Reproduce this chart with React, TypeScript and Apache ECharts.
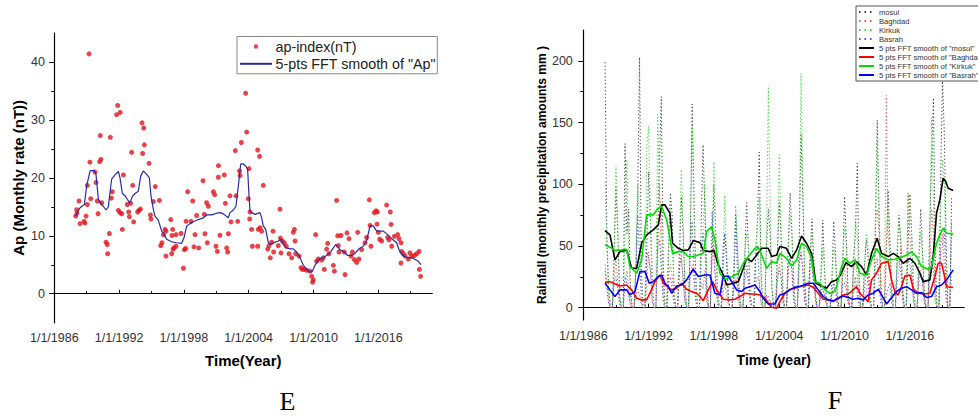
import React, { useEffect, useRef } from 'react';
import * as echarts from 'echarts';

const FONT = '"Liberation Sans", Arial, Helvetica, sans-serif';

// ---- axis ticks / labels ----
const X_LABEL_YEARS = [1986, 1992, 1998, 2004, 2010, 2016];
const X_MINOR_YEARS = [1989, 1995, 2001, 2007, 2013, 2019];
const E_Y_LABELS = [0, 10, 20, 30, 40];
const E_Y_MINOR = [5, 15, 25, 35];
const F_Y_LABELS = [0, 50, 100, 150, 200];
const F_Y_MINOR = [25, 75, 125, 175];

// ---- chart E: ap-index ----
const AP_INDEX: number[][] = [
  [1987.98,13.4],[1988.07,14.5],[1988.1,13.9],[1988.29,16.0],[1988.38,12.1],[1988.75,12.5],[1988.84,12.2],[1988.94,13.4],
  [1989.06,15.4],[1989.06,18.7],[1989.21,41.4],[1989.3,22.7],[1989.37,16.4],[1989.77,21.0],[1989.86,19.2],[1989.98,16.0],
  [1990.05,13.8],[1990.2,22.8],[1990.26,27.3],[1990.32,23.2],[1990.39,15.7],[1990.79,8.9],[1990.9,8.5],[1990.94,6.9],
  [1991.1,10.4],[1991.19,27.0],[1991.28,16.5],[1991.37,17.6],[1991.77,30.9],[1991.87,32.5],[1991.93,14.4],[1992.08,14.0],
  [1992.1,31.3],[1992.24,13.8],[1992.3,11.1],[1992.4,20.5],[1992.76,15.4],[1992.89,14.1],[1992.95,13.3],[1993.07,15.6],
  [1993.16,24.4],[1993.26,18.7],[1993.35,12.4],[1993.72,14.1],[1993.84,14.4],[1993.97,14.6],[1994.12,29.5],[1994.18,24.2],
  [1994.28,28.6],[1994.34,25.7],[1994.77,22.5],[1994.9,13.6],[1994.95,12.9],[1995.17,15.9],[1995.35,18.5],[1995.73,16.1],
  [1995.85,8.3],[1995.97,8.8],[1996.1,10.2],[1996.25,11.1],[1996.34,10.8],[1996.34,6.5],[1996.78,12.8],[1996.87,6.9],
  [1996.9,10.05],[1996.96,11.1],[1997.0,7.7],[1997.08,7.9],[1997.27,8.2],[1997.27,10.2],[1997.73,10.4],[1997.95,4.4],
  [1998.04,7.6],[1998.16,7.8],[1998.2,12.5],[1998.35,17.6],[1998.66,12.5],[1998.81,16.0],[1998.93,8.1],[1999.03,10.2],
  [1999.18,13.5],[1999.37,7.9],[1999.77,19.5],[1999.89,13.7],[1999.95,10.35],[2000.1,15.7],[2000.17,8.8],[2000.26,15.1],
  [2000.73,17.6],[2000.85,17.1],[2000.97,8.2],[2001.1,7.3],[2001.19,20.1],[2001.2,22.1],[2001.34,10.1],[2001.74,20.5],
  [2001.84,15.6],[2001.96,7.9],[2002.05,7.2],[2002.12,10.35],[2002.27,16.9],[2002.36,12.4],[2002.76,24.7],[2002.82,16.9],
  [2002.98,12.5],[2003.15,21.2],[2003.2,20.4],[2003.32,26.1],[2003.72,34.6],[2003.81,27.9],[2003.96,16.4],[2004.03,21.6],
  [2004.09,12.9],[2004.12,14.1],[2004.27,11.1],[2004.34,8.2],[2004.83,24.8],[2004.83,8.2],[2004.89,11.1],[2005.01,23.7],
  [2005.05,11.4],[2005.2,10.8],[2005.35,18.7],[2005.76,7.7],[2005.88,8.3],[2006.0,6.2],[2006.13,8.9],[2006.25,10.8],
  [2006.31,7.2],[2006.74,8.3],[2006.9,14.6],[2006.93,9.6],[2006.99,7.05],[2007.11,9.1],[2007.3,8.8],[2007.48,8.2],
  [2007.73,6.9],[2007.98,6.2],[2008.13,10.6],[2008.23,11.1],[2008.29,9.1],[2008.35,6.9],[2008.66,6.5],[2008.84,4.5],
  [2008.97,4.2],[2009.15,4.2],[2009.37,4.05],[2009.68,3.9],[2009.83,3.0],[2009.92,2.0],[2009.98,2.4],[2010.2,10.2],
  [2010.29,5.6],[2010.45,6.0],[2010.76,5.8],[2010.91,6.2],[2011.0,4.2],[2011.22,7.7],[2011.31,8.7],[2011.43,6.9],
  [2011.84,4.9],[2011.93,3.9],[2012.14,16.1],[2012.24,10.0],[2012.3,8.3],[2012.36,7.2],[2012.55,10.05],[2012.85,7.2],
  [2012.92,3.3],[2013.1,10.5],[2013.29,9.5],[2013.47,6.5],[2013.6,7.2],[2013.78,5.9],[2014.0,5.4],[2014.09,10.6],
  [2014.21,6.0],[2014.46,7.6],[2014.77,8.8],[2014.92,9.7],[2015.17,16.2],[2015.23,11.8],[2015.32,8.2],[2015.63,14.0],
  [2015.79,14.3],[2015.88,12.0],[2015.91,14.1],[2016.0,10.6],[2016.13,9.4],[2016.31,9.1],[2016.77,15.3],[2016.87,9.7],
  [2016.99,9.3],[2017.11,14.1],[2017.18,11.96],[2017.24,8.2],[2017.48,9.9],[2017.79,10.2],[2017.92,9.5],[2018.1,8.8],
  [2018.1,5.3],[2018.16,7.3],[2018.32,6.9],[2018.47,6.5],[2018.78,6.0],[2018.93,7.05],[2019.09,6.5],[2019.34,6.6],
  [2019.55,6.9],[2019.77,7.3],[2019.8,4.2],[2019.92,3.0],
];

const AP_SMOOTH: number[][] = [
  [1987.98,13.4],[1988.38,14.85],[1988.78,15.4],[1989.0,18.6],[1989.31,21.2],[1989.68,21.3],[1989.86,20.6],[1990.08,16.3],
  [1990.29,15.6],[1990.54,15.1],[1990.79,14.45],[1991.0,15.0],[1991.31,19.8],[1991.62,20.5],[1991.93,21.1],[1992.08,20.05],
  [1992.3,17.3],[1992.55,16.9],[1992.76,16.3],[1993.01,15.7],[1993.23,16.8],[1993.47,17.3],[1993.78,17.7],[1994.0,20.3],
  [1994.24,21.2],[1994.55,20.6],[1994.8,20.05],[1994.95,16.9],[1995.17,14.56],[1995.32,13.4],[1995.63,12.7],[1995.94,10.8],
  [1996.19,10.2],[1996.4,9.4],[1996.87,8.96],[1997.33,8.8],[1997.79,8.7],[1998.01,9.65],[1998.26,11.7],[1998.57,12.1],
  [1998.94,12.5],[1999.34,12.8],[1999.8,13.1],[2000.11,13.6],[2000.57,13.6],[2001.03,13.9],[2001.4,14.0],[2001.71,13.7],
  [2002.11,13.1],[2002.27,14.0],[2002.58,14.45],[2002.82,15.1],[2003.04,18.6],[2003.26,22.4],[2003.5,22.4],[2003.75,21.96],
  [2003.9,21.5],[2004.03,16.9],[2004.12,14.3],[2004.27,14.0],[2004.58,13.7],[2005.05,14.0],[2005.2,13.1],[2005.35,11.7],
  [2005.57,11.1],[2005.82,8.8],[2006.06,8.5],[2006.43,8.9],[2006.74,9.1],[2006.99,9.4],[2007.21,8.5],[2007.52,7.9],
  [2007.82,7.75],[2008.13,7.75],[2008.44,7.2],[2008.75,6.2],[2009.06,4.9],[2009.37,4.2],[2009.68,3.7],[2009.89,3.9],
  [2010.14,4.9],[2010.45,5.9],[2010.82,6.2],[2011.22,6.6],[2011.62,7.3],[2011.84,7.9],[2012.05,8.5],[2012.45,7.6],
  [2012.85,7.2],[2013.16,6.6],[2013.53,6.6],[2013.84,6.95],[2014.21,7.75],[2014.61,8.2],[2014.92,9.1],[2015.23,11.7],
  [2015.54,11.7],[2015.85,10.8],[2016.16,10.8],[2016.47,10.8],[2016.87,10.2],[2017.24,9.5],[2017.7,8.8],[2017.92,7.6],
  [2018.16,6.8],[2018.47,6.4],[2018.78,6.2],[2019.09,6.2],[2019.4,5.9],[2019.71,5.6],[2019.95,5.0],
];

// ---- chart F: rainfall, one row per year (1988..2019), samples Jan, Mar, May, Jul, Sep, Nov ----
const RAIN_START_YEAR = 1988;
const RAIN_SAMPLE_MONTHS = [0, 2, 4, 6, 8, 10];

const MOSUL = [
  [199,55,15,0,0,45],[98,60,10,0,0,133],[60,80,15,0,0,35],[90,203,30,0,0,50],[110,70,20,0,0,60],[120,171,40,0,0,50],
  [93,75,15,0,0,40],[90,60,20,0,0,55],[165,90,25,0,0,70],[132,80,20,0,0,45],[100,60,15,0,0,30],[60,40,5,0,0,20],
  [75,45,10,0,0,40],[85,50,10,0,0,45],[70,126,30,0,0,50],[80,60,15,0,0,45],[85,60,15,0,0,50],[93,60,20,0,0,55],
  [141,90,25,0,0,40],[72,40,10,0,0,25],[71,30,5,0,0,20],[70,45,10,0,0,35],[90,55,10,0,0,40],[60,117,25,0,0,35],
  [55,40,10,0,0,60],[152,80,20,0,0,45],[95,55,15,0,0,40],[75,50,15,0,0,50],[92,60,15,0,0,40],[80,45,10,0,0,70],
  [120,170,40,0,0,110],[185,140,50,0,0,90],
];
const BAGHDAD = [
  [35,20,5,0,0,25],[40,20,5,0,0,20],[30,15,3,0,0,10],[15,10,2,0,0,20],[45,30,5,0,0,40],[100,40,10,0,0,25],
  [35,25,5,0,0,30],[45,20,5,0,0,25],[35,20,5,0,0,20],[15,30,5,0,0,45],[50,20,5,0,0,10],[20,10,2,0,0,15],
  [25,15,2,0,0,20],[30,20,5,0,0,20],[25,20,5,0,0,10],[5,5,0,0,0,20],[35,25,5,0,0,30],[40,30,5,0,0,35],
  [45,30,5,0,0,30],[35,20,5,0,0,10],[15,10,2,0,0,10],[20,15,3,0,0,25],[30,20,5,0,0,30],[40,25,5,0,0,10],
  [10,30,5,0,0,70],[80,60,10,0,0,172],[60,40,10,0,0,20],[30,50,10,0,0,93],[60,30,5,0,0,20],[30,20,5,0,0,30],
  [80,60,10,0,0,50],[60,30,5,0,0,25],
];
const KIRKUK = [
  [102,50,10,0,0,40],[115,70,10,0,0,60],[120,50,10,0,0,30],[100,70,20,0,0,130],[147,75,25,0,0,157],[90,80,20,0,0,40],
  [80,60,10,0,0,50],[112,70,15,0,0,60],[147,80,20,0,0,50],[60,100,20,0,0,50],[118,60,10,0,0,35],[91,40,5,0,0,30],
  [83,50,10,0,0,45],[60,50,10,0,0,40],[70,90,20,0,0,60],[179,80,15,0,0,40],[124,60,10,0,0,45],[75,60,15,0,0,50],
  [190,100,20,0,0,35],[60,40,10,0,0,25],[48,30,5,0,0,20],[49,40,10,0,0,40],[65,50,10,0,0,35],[70,60,15,0,0,30],
  [60,50,10,0,0,70],[136,70,20,0,0,45],[78,50,15,0,0,50],[70,60,15,0,0,93],[80,60,15,0,0,40],[62,40,10,0,0,60],
  [154,90,20,0,0,80],[120,100,30,0,0,60],
];
const BASRAH = [
  [30,15,3,0,0,20],[25,15,3,0,0,25],[20,10,2,0,0,30],[75,40,5,0,0,45],[40,30,5,0,0,50],[55,30,5,0,0,20],
  [25,15,3,0,0,35],[40,25,5,0,0,50],[70,30,5,0,0,40],[60,50,10,0,0,78],[40,20,3,0,0,50],[60,40,5,0,0,30],
  [75,20,3,0,0,30],[35,25,5,0,0,40],[50,20,3,0,0,10],[10,5,0,0,0,25],[30,25,5,0,0,35],[40,30,5,0,0,35],
  [45,30,5,0,0,40],[35,20,5,0,0,15],[15,10,2,0,0,12],[20,15,3,0,0,20],[20,15,3,0,0,15],[25,10,2,0,0,15],
  [30,20,3,0,0,35],[40,20,3,0,0,10],[15,20,3,0,0,35],[40,30,5,0,0,40],[35,25,5,0,0,30],[25,20,3,0,0,35],
  [40,30,5,0,0,45],[50,65,10,0,0,70],
];

const SMOOTH_MOSUL: number[][] = [
  [1987.99,62.5],[1988.45,59],[1988.91,38.7],[1989.37,45.4],[1989.98,46.8],[1990.44,31.9],[1990.9,31.9],[1991.36,52.2],
  [1991.82,59],[1992.43,63],[1992.89,67.1],[1993.2,83.3],[1993.5,83.3],[1993.96,76.5],[1994.2,52.2],[1994.73,48.1],
  [1995.19,46.3],[1995.65,46.8],[1996.1,54.4],[1996.72,52.7],[1997.02,46.3],[1997.63,45.4],[1998.0,46.3],[1998.4,34.6],
  [1998.86,26.5],[1999.17,18.4],[1999.78,19.8],[2000.24,21.1],[2000.7,31.9],[2001.0,40],[2001.46,37.3],[2001.92,42.7],
  [2002.38,48.1],[2002.99,48.1],[2003.3,41.4],[2003.76,42.7],[2004.06,49.5],[2004.67,48.1],[2005.13,40],[2005.6,46.8],
  [2006.05,58.1],[2006.51,52.2],[2006.97,44],[2007.37,19.8],[2007.89,17.6],[2008.35,15.7],[2008.81,21.1],[2009.27,22.5],
  [2009.63,26.5],[2010.12,36.5],[2010.64,33.3],[2011.1,37.3],[2011.56,33.3],[2012.02,26.5],[2012.48,44],[2012.99,56.3],
  [2013.4,44],[2014.01,41.4],[2014.47,44],[2014.93,41.4],[2015.39,36],[2016.0,40],[2016.46,36],[2016.92,27.9],
  [2017.23,21.1],[2017.84,22.5],[2018.14,41.4],[2018.45,76.5],[2018.75,87.3],[2019.06,104.9],[2019.3,102.2],[2019.52,96.8],
  [2019.98,94.9],
];
const SMOOTH_BAGHDAD: number[][] = [
  [1987.99,20.3],[1988.45,21.1],[1988.91,19.2],[1989.37,17.6],[1989.98,18.4],[1990.44,14.4],[1990.9,7.6],[1991.36,6.3],
  [1991.82,6.3],[1992.12,11.7],[1992.58,21.1],[1993.04,26.5],[1993.35,19.8],[1993.66,17.6],[1994.11,14.4],[1994.57,15.7],
  [1995.03,19.8],[1995.49,14.9],[1995.95,13],[1996.41,11.7],[1996.72,9],[1997.02,5.7],[1997.48,14.4],[1997.88,21.1],
  [1998.25,14.4],[1998.86,6.8],[1999.47,6.3],[1999.93,6.8],[2000.39,9],[2000.85,11.7],[2001.31,11.1],[2001.77,11.1],
  [2002.23,10.3],[2002.69,7.6],[2002.99,3.5],[2003.3,0.3],[2003.76,-0.5],[2004.06,4.9],[2004.52,11.7],[2004.98,14.9],
  [2005.44,15.7],[2006.05,17.6],[2006.66,18.4],[2007.12,16.5],[2007.58,11.7],[2008.04,6.8],[2008.5,6.3],[2008.96,4.9],
  [2009.42,7.6],[2009.88,10.3],[2010.34,11.1],[2010.8,14.4],[2011.1,17],[2011.41,11.7],[2011.87,7.6],[2012.17,4.9],
  [2012.48,22.5],[2012.94,27.9],[2013.4,36],[2014.01,37.3],[2014.32,22.5],[2014.62,13],[2014.93,10.3],[2015.23,17],
  [2015.54,25.7],[2016.0,26.5],[2016.3,15.7],[2016.76,11.7],[2017.38,11.1],[2017.84,11.7],[2018.3,25.2],[2018.6,36],
  [2018.91,36],[2019.12,27.9],[2019.37,17],[2019.98,16.3],
];
const SMOOTH_KIRKUK: number[][] = [
  [1987.99,50.9],[1988.45,49],[1988.91,46.3],[1989.52,46.8],[1989.98,47.3],[1990.29,33.3],[1990.9,27.9],[1991.36,38.7],
  [1991.82,75.2],[1992.43,75.2],[1992.74,79.2],[1993.2,81.9],[1993.66,71.1],[1994.2,44],[1994.73,45.4],[1995.19,45.4],
  [1995.65,41.4],[1996.1,41.4],[1996.56,42.7],[1997.02,44],[1997.33,61.7],[1997.79,65.7],[1998.09,54.9],[1998.55,27.9],
  [1999.01,23],[1999.47,24.6],[1999.93,26.5],[2000.24,27.9],[2000.7,36],[2001.16,41.4],[2001.77,48.1],[2002.07,49],
  [2002.38,42.7],[2002.84,31.9],[2003.3,37.3],[2003.76,36],[2004.06,44],[2004.67,40],[2005.13,33.8],[2005.6,38.7],
  [2006.05,52.2],[2006.51,49.5],[2006.97,40],[2007.28,21.1],[2007.74,19.8],[2008.2,14.4],[2008.66,11.7],[2008.96,12.2],
  [2009.27,17],[2009.73,33.3],[2010.03,40],[2010.49,36],[2010.95,38.7],[2011.41,27.9],[2012.02,26.5],[2012.48,38.7],
  [2012.94,48.1],[2013.4,41.4],[2014.01,38.7],[2014.62,39.2],[2015.23,40.8],[2015.69,42.7],[2016.15,45.4],[2016.61,41.4],
  [2017.07,33.3],[2017.68,31.1],[2017.99,33.3],[2018.45,52.2],[2018.75,59],[2019.06,64.4],[2019.37,60.3],[2019.98,59.8],
];
const SMOOTH_BASRAH: number[][] = [
  [1987.99,19.8],[1988.45,14.4],[1988.91,9],[1989.37,14.4],[1989.98,14.4],[1990.29,10.3],[1990.75,13],[1991.2,29.2],
  [1991.67,29.2],[1992.06,19.8],[1992.43,21.1],[1992.89,25.2],[1993.2,26.5],[1993.5,19.8],[1993.81,17],[1994.11,11.7],
  [1994.57,17.6],[1995.03,18.4],[1995.49,22.5],[1996.1,31.1],[1996.56,25.2],[1997.17,26.5],[1997.63,26.5],[1998.09,11.7],
  [1998.55,10.3],[1998.86,25.2],[1999.32,25.7],[1999.63,21.1],[2000.08,14.4],[2000.54,13],[2000.85,15.7],[2001.31,17],
  [2001.77,18.4],[2002.23,13],[2002.53,7.6],[2002.99,3],[2003.6,3],[2004.06,10.3],[2004.52,11.7],[2004.98,14.4],
  [2005.44,16.5],[2006.05,17.6],[2006.66,19.8],[2007.12,19.8],[2007.58,14.4],[2008.04,9],[2008.5,6.3],[2008.96,5.5],
  [2009.42,7.6],[2009.88,9.5],[2010.34,8.2],[2010.8,6.8],[2011.26,7.6],[2011.71,6.3],[2012.17,10.3],[2012.63,11.7],
  [2013.09,14.9],[2013.4,10.3],[2013.86,3],[2014.32,8.2],[2014.77,13],[2015.23,15.7],[2015.69,17],[2016.15,14.4],
  [2016.61,11.7],[2017.07,12.2],[2017.53,8.2],[2017.99,9],[2018.45,17],[2018.91,18.4],[2019.37,22.5],[2019.98,30.6],
];

const toTimeSeries = (rows: number[][]) =>
  rows.flatMap((row, i) => row.map((v, j) => [RAIN_START_YEAR + i + RAIN_SAMPLE_MONTHS[j] / 12, v]));

const DOT_ICON = 'path://M0,0L0.01,0M32,13L32.01,13M13.8,6.5A2.2,2.2,0,1,0,18.2,6.5A2.2,2.2,0,1,0,13.8,6.5Z';

const tickLabel = { fontFamily: FONT, fontSize: 12.5, color: '#333' };
const axisLine = { show: true, lineStyle: { color: '#000', width: 1.2 } };

function xMain(gridIndex: number, name: string, nameGap: number, nameSize: number) {
  return {
    type: 'value', gridIndex, position: 'bottom', min: 1986, max: 2021,
    axisLine, splitLine: { show: false },
    axisTick: { show: true, inside: true, length: 4, customValues: X_LABEL_YEARS, lineStyle: { color: '#000', width: 1 } },
    axisLabel: { ...tickLabel, margin: 9, customValues: X_LABEL_YEARS, formatter: (v: number) => '1/1/' + v },
    name, nameLocation: 'middle', nameGap,
    nameTextStyle: { fontFamily: FONT, fontSize: nameSize, fontWeight: 'bold', color: '#000' },
  };
}
function xMinor(gridIndex: number) {
  return {
    type: 'value', gridIndex, position: 'bottom', min: 1986, max: 2021,
    axisLine: { show: false }, splitLine: { show: false }, axisLabel: { show: false },
    axisTick: { show: true, inside: true, length: 2.5, customValues: X_MINOR_YEARS, lineStyle: { color: '#000', width: 1 } },
  };
}
function yMain(gridIndex: number, min: number, max: number, labels: number[], name: string, nameGap: number, nameSize: number, margin: number) {
  return {
    type: 'value', gridIndex, position: 'left', min, max,
    axisLine, splitLine: { show: false },
    axisTick: { show: true, inside: false, length: 5, customValues: labels, lineStyle: { color: '#000', width: 1 } },
    axisLabel: { ...tickLabel, margin, customValues: labels },
    name, nameLocation: 'middle', nameGap, nameRotate: 90,
    nameTextStyle: { fontFamily: FONT, fontSize: nameSize, fontWeight: 'bold', color: '#000' },
  };
}
function yMinor(gridIndex: number, min: number, max: number, ticks: number[]) {
  return {
    type: 'value', gridIndex, position: 'left', min, max,
    axisLine: { show: false }, splitLine: { show: false }, axisLabel: { show: false },
    axisTick: { show: true, inside: false, length: 3, customValues: ticks, lineStyle: { color: '#000', width: 1 } },
  };
}

const dotted = (name: string, rows: number[][], color: string) => ({
  name, type: 'line', xAxisIndex: 2, yAxisIndex: 2, data: toTimeSeries(rows),
  symbol: 'none', showSymbol: false, silent: true,
  lineStyle: { color, width: 1, type: [1.2, 2.3] }, itemStyle: { color },
});
const smooth = (name: string, data: number[][], color: string) => ({
  name, type: 'line', xAxisIndex: 2, yAxisIndex: 2, data,
  symbol: 'none', showSymbol: false, silent: true,
  lineStyle: { color, width: 1.6 }, itemStyle: { color },
});

const HIDE_SYMBOL = { opacity: 0 };
const DOTTED_ICON_LINE = { type: [1.5, 4] };

const option = {
  animation: false,
  backgroundColor: '#fff',
  grid: [
    { left: 54.3, top: 33, width: 378, height: 289.7, containLabel: false, outerBoundsMode: 'none' },
    { left: 583.3, top: 30, width: 381, height: 290, containLabel: false, outerBoundsMode: 'none' },
  ],
  xAxis: [
    xMain(0, 'Time(Year)', 30, 15),
    xMinor(0),
    xMain(1, 'Time (year)', 33, 14),
    xMinor(1),
  ],
  yAxis: [
    yMain(0, -5, 45, E_Y_LABELS, 'Ap (Monthly rate (nT))', 28, 15, 9.3),
    yMinor(0, -5, 45, E_Y_MINOR),
    yMain(1, -10, 225, F_Y_LABELS, 'Rainfall (monthly precipitation amounts mm )', 35.5, 12, 10.5),
    yMinor(1, -10, 225, F_Y_MINOR),
  ],
  legend: [
    {
      orient: 'vertical', left: 237, top: 36.5, padding: [3, 1.5, 3, 2], itemGap: 3.3,
      itemWidth: 32, itemHeight: 13, borderColor: '#888', borderWidth: 1, backgroundColor: '#fff',
      selectedMode: false,
      textStyle: { fontFamily: FONT, fontSize: 14.3, lineHeight: 13, color: '#222', padding: [0, 0, 0, -1.5] },
      data: [
        { name: 'ap-index(nT)', icon: DOT_ICON },
        { name: '5-pts FFT smooth of "Ap"', itemStyle: HIDE_SYMBOL },
      ],
    },
    {
      orient: 'vertical', left: 856, top: 6, padding: [2, 4, 2, 2], itemGap: 1,
      itemWidth: 15, itemHeight: 8, borderColor: '#555', borderWidth: 1, backgroundColor: '#fff',
      selectedMode: false,
      textStyle: { fontFamily: FONT, fontSize: 7.6, lineHeight: 8, color: '#333' },
      data: [
        { name: 'mosul', lineStyle: DOTTED_ICON_LINE, itemStyle: HIDE_SYMBOL },
        { name: 'Baghdad', lineStyle: DOTTED_ICON_LINE, itemStyle: HIDE_SYMBOL },
        { name: 'Kirkuk', lineStyle: DOTTED_ICON_LINE, itemStyle: HIDE_SYMBOL },
        { name: 'Basrah', lineStyle: DOTTED_ICON_LINE, itemStyle: HIDE_SYMBOL },
        { name: '5 pts FFT smooth of "mosul"', itemStyle: HIDE_SYMBOL },
        { name: '5 pts FFT smooth of "Baghdad"', itemStyle: HIDE_SYMBOL },
        { name: '5 pts FFT smooth of "Kirkuk"', itemStyle: HIDE_SYMBOL },
        { name: '5 pts FFT smooth of "Basrah"', itemStyle: HIDE_SYMBOL },
      ],
    },
  ],
  graphic: [
    { type: 'text', x: 287.5, y: 401.5, style: { text: 'E', fontFamily: '"Liberation Serif", "Times New Roman", serif', fontSize: 26, fill: '#000', align: 'center', verticalAlign: 'middle' } },
    { type: 'text', x: 835, y: 400, style: { text: 'F', fontFamily: '"Liberation Serif", "Times New Roman", serif', fontSize: 26, fill: '#000', align: 'center', verticalAlign: 'middle' } },
  ],
  series: [
    {
      name: 'ap-index(nT)', type: 'scatter', xAxisIndex: 0, yAxisIndex: 0, data: AP_INDEX,
      symbol: 'circle', symbolSize: 5, itemStyle: { color: '#e3141c' }, silent: true,
    },
    {
      name: '5-pts FFT smooth of "Ap"', type: 'line', xAxisIndex: 0, yAxisIndex: 0, data: AP_SMOOTH,
      symbol: 'none', showSymbol: false, silent: true,
      lineStyle: { color: '#2a2aa8', width: 1.2 }, itemStyle: { color: '#2a2aa8' },
    },
    dotted('mosul', MOSUL, '#3a3a3a'),
    dotted('Baghdad', BAGHDAD, '#ff4a4a'),
    dotted('Kirkuk', KIRKUK, '#33dd33'),
    dotted('Basrah', BASRAH, '#4a4aff'),
    smooth('5 pts FFT smooth of "mosul"', SMOOTH_MOSUL, '#000000'),
    smooth('5 pts FFT smooth of "Baghdad"', SMOOTH_BAGHDAD, '#ff0000'),
    smooth('5 pts FFT smooth of "Kirkuk"', SMOOTH_KIRKUK, '#00dd00'),
    smooth('5 pts FFT smooth of "Basrah"', SMOOTH_BASRAH, '#0000ff'),
  ],
};

export default function App() {
  const ref = useRef<HTMLDivElement>(null);
  useEffect(() => {
    document.body.style.margin = '0';
    const chart = echarts.init(ref.current!, null, { renderer: 'svg' });
    chart.setOption(option as any);
    return () => chart.dispose();
  }, []);
  return <div ref={ref} style={{ position: 'absolute', left: 0, top: 0, width: 978, height: 416, background: '#fff' }} />;
}
